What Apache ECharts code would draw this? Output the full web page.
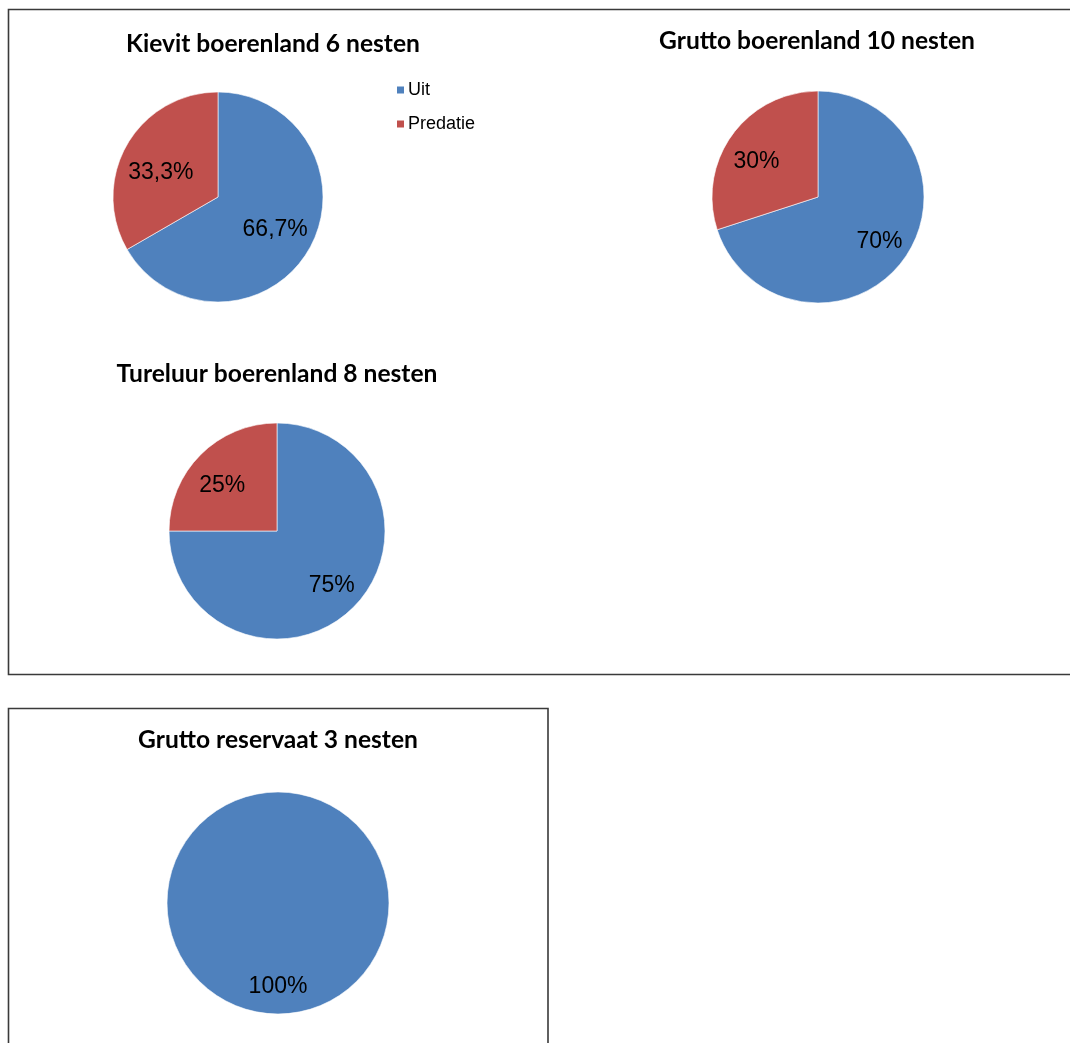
<!DOCTYPE html>
<html>
<head>
<meta charset="utf-8">
<script src="https://cdn.jsdelivr.net/npm/echarts@6/dist/echarts.min.js"></script>
<style>
html,body{margin:0;padding:0;background:#fff;}
#c{width:1070px;height:1043px;}
</style>
</head>
<body>
<div id="c"></div>
<script>
var categories = ['Uit', 'Predatie'];
var chartTitles = ['Kievit boerenland 6 nesten', 'Grutto boerenland 10 nesten', 'Tureluur boerenland 8 nesten', 'Grutto reservaat 3 nesten'];
var kievitValues = [4, 2];
var gruttoBoerenlandValues = [7, 3];
var tureluurValues = [6, 2];
var gruttoReservaatValues = [3, 0];

var colors = ['#4F81BD', '#C0504D'];

var layouts = [
  {cx: 218, cy: 197, r: 105, lr: 126, tx: 268, ty: 27},
  {cx: 818, cy: 197, r: 106, lr: 146, tx: 812, ty: 24},
  {cx: 277, cy: 531, r: 108, lr: 149, tx: 272, ty: 357},
  {cx: 278, cy: 903, r: 111, lr: 162, tx: 273, ty: 723}
];
var valueSets = [kievitValues, gruttoBoerenlandValues, tureluurValues, gruttoReservaatValues];

function fmt(p) {
  if (!p.value) return '';
  var s = p.percent.toFixed(1).replace('.', ',');
  if (/,0$/.test(s)) s = s.slice(0, -2);
  return s + '%';
}

var titles = [], series = [];
valueSets.forEach(function (vals, i) {
  var L = layouts[i];
  var data = categories.map(function (c, k) { return {name: c, value: vals[k]}; });
  titles.push({
    text: chartTitles[i], left: L.tx, top: L.ty, textAlign: 'center',
    textStyle: {fontFamily: 'Lato', fontWeight: 'bold', fontSize: 24.6, color: '#000'}
  });
  series.push({
    type: 'pie', center: [L.cx, L.cy], radius: [0, L.r],
    startAngle: 90, clockwise: true, silent: true, animation: false,
    label: {show: false}, labelLine: {show: false},
    itemStyle: {borderColor: '#ffffff', borderWidth: 0.6},
    data: data.filter(function (d) { return d.value > 0; })
  });
  series.push({
    type: 'pie', center: [L.cx, L.cy], radius: [0, L.lr],
    startAngle: 90, clockwise: true, silent: true, animation: false,
    itemStyle: {color: 'rgba(0,0,0,0)', borderWidth: 0},
    label: {show: true, position: 'inside', formatter: fmt, color: '#000',
      fontFamily: 'Liberation Sans', fontSize: 23, textBorderWidth: 0},
    labelLine: {show: false},
    labelLayout: function (p) { return p.dataIndex === 1 ? {dy: 9} : {}; },
    data: data.filter(function (d) { return d.value > 0; })
  });
});

var chart = echarts.init(document.getElementById('c'), null, {renderer: 'canvas'});
chart.setOption({
  animation: false,
  color: colors,
  title: titles,
  legend: {
    data: categories, orient: 'vertical', left: 395, top: 81, padding: 0,
    itemWidth: 9, itemHeight: 9, itemGap: 16, icon: 'rect', selectedMode: false,
    textStyle: {fontFamily: 'Liberation Sans', fontSize: 18, color: '#000', padding: [0, 0, 0, -2]}
  },
  graphic: [
    {type: 'rect', shape: {x: 8.5, y: 9.5, width: 1080, height: 665},
      style: {fill: null, stroke: '#3a3a3a', lineWidth: 1.6}, silent: true},
    {type: 'rect', shape: {x: 8.5, y: 708.5, width: 539.5, height: 360},
      style: {fill: null, stroke: '#3a3a3a', lineWidth: 1.6}, silent: true}
  ],
  series: series
});
</script>
</body>
</html>
